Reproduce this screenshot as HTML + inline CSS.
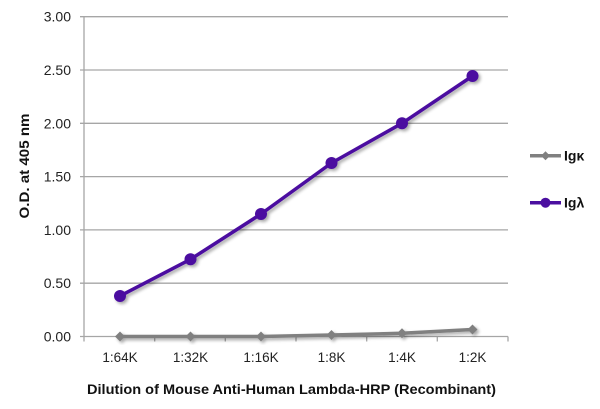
<!DOCTYPE html>
<html><head><meta charset="utf-8"><style>
html,body{margin:0;padding:0;background:#fff;}
svg{display:block;}
text{font-family:"Liberation Sans",sans-serif;}
</style></head><body>
<svg width="600" height="409" viewBox="0 0 600 409" xmlns="http://www.w3.org/2000/svg">
<defs>
<filter id="sh" x="-20%" y="-20%" width="140%" height="140%">
<feGaussianBlur in="SourceAlpha" stdDeviation="1.5"/>
<feOffset dx="2" dy="2" result="o"/>
<feComponentTransfer><feFuncA type="linear" slope="0.35"/></feComponentTransfer>
<feMerge><feMergeNode/><feMergeNode in="SourceGraphic"/></feMerge>
</filter>
</defs>
<g stroke="#a6a6a6" stroke-width="1.3">
<line x1="80" y1="16.7" x2="508" y2="16.7"/>
<line x1="80" y1="70" x2="508" y2="70"/>
<line x1="80" y1="123.3" x2="508" y2="123.3"/>
<line x1="80" y1="176.6" x2="508" y2="176.6"/>
<line x1="80" y1="229.9" x2="508" y2="229.9"/>
<line x1="80" y1="283.2" x2="508" y2="283.2"/>
<line x1="80" y1="336.5" x2="508" y2="336.5"/>
<line x1="84" y1="16.7" x2="84" y2="341.5"/>
<line x1="154.7" y1="336.5" x2="154.7" y2="341.5"/>
<line x1="225.3" y1="336.5" x2="225.3" y2="341.5"/>
<line x1="296" y1="336.5" x2="296" y2="341.5"/>
<line x1="366.7" y1="336.5" x2="366.7" y2="341.5"/>
<line x1="437.3" y1="336.5" x2="437.3" y2="341.5"/>
<line x1="508" y1="336.5" x2="508" y2="341.5"/>
</g>
<g font-size="14" fill="#222" text-anchor="end">
<text x="71" y="21.7">3.00</text>
<text x="71" y="75">2.50</text>
<text x="71" y="128.3">2.00</text>
<text x="71" y="181.6">1.50</text>
<text x="71" y="234.9">1.00</text>
<text x="71" y="288.2">0.50</text>
<text x="71" y="341.5">0.00</text>
</g>
<g font-size="13.5" fill="#222" text-anchor="middle">
<text x="120" y="362">1:64K</text>
<text x="190.5" y="362">1:32K</text>
<text x="261" y="362">1:16K</text>
<text x="331.5" y="362">1:8K</text>
<text x="402" y="362">1:4K</text>
<text x="472.5" y="362">1:2K</text>
</g>
<text x="291.5" y="394" font-size="14" font-weight="bold" fill="#111" text-anchor="middle" textLength="409" lengthAdjust="spacingAndGlyphs">Dilution of Mouse Anti-Human Lambda-HRP (Recombinant)</text>
<text transform="translate(29,166) rotate(-90)" font-size="14" font-weight="bold" fill="#111" text-anchor="middle" textLength="105" lengthAdjust="spacingAndGlyphs">O.D. at 405 nm</text>
<g filter="url(#sh)">
<polyline points="120,336.5 190.5,336.5 261,336.5 331.5,335 402,333.3 472.5,329.5" fill="none" stroke="#808080" stroke-width="3.5" stroke-linejoin="round"/>
<g fill="#808080">
<polygon points="120,331.5 125,336.5 120,341.5 115,336.5"/>
<polygon points="190.5,331.5 195.5,336.5 190.5,341.5 185.5,336.5"/>
<polygon points="261,331.5 266,336.5 261,341.5 256,336.5"/>
<polygon points="331.5,330 336.5,335 331.5,340 326.5,335"/>
<polygon points="402,328.3 407,333.3 402,338.3 397,333.3"/>
<polygon points="472.5,324.5 477.5,329.5 472.5,334.5 467.5,329.5"/>
</g>
</g>
<g filter="url(#sh)">
<polyline points="120,296 190.5,259.3 261,214 331.5,163 402,123.3 472.5,76" fill="none" stroke="#4b0fa0" stroke-width="3.5" stroke-linejoin="round"/>
<g fill="#4b0fa0">
<circle cx="120" cy="296" r="6"/>
<circle cx="190.5" cy="259.3" r="6"/>
<circle cx="261" cy="214" r="6"/>
<circle cx="331.5" cy="163" r="6"/>
<circle cx="402" cy="123.3" r="6"/>
<circle cx="472.5" cy="76" r="6"/>
</g>
</g>
<line x1="530" y1="155.7" x2="561" y2="155.7" stroke="#808080" stroke-width="3.5"/>
<polygon points="545.5,151.2 550,155.7 545.5,160.2 541,155.7" fill="#808080"/>
<text x="564" y="160.5" font-size="14" font-weight="bold" fill="#111">Igκ</text>
<line x1="530" y1="202.7" x2="561" y2="202.7" stroke="#4b0fa0" stroke-width="3.5"/>
<circle cx="545.5" cy="202.7" r="5" fill="#4b0fa0"/>
<text x="564" y="207.5" font-size="14" font-weight="bold" fill="#111">Igλ</text>
</svg>
</body></html>
